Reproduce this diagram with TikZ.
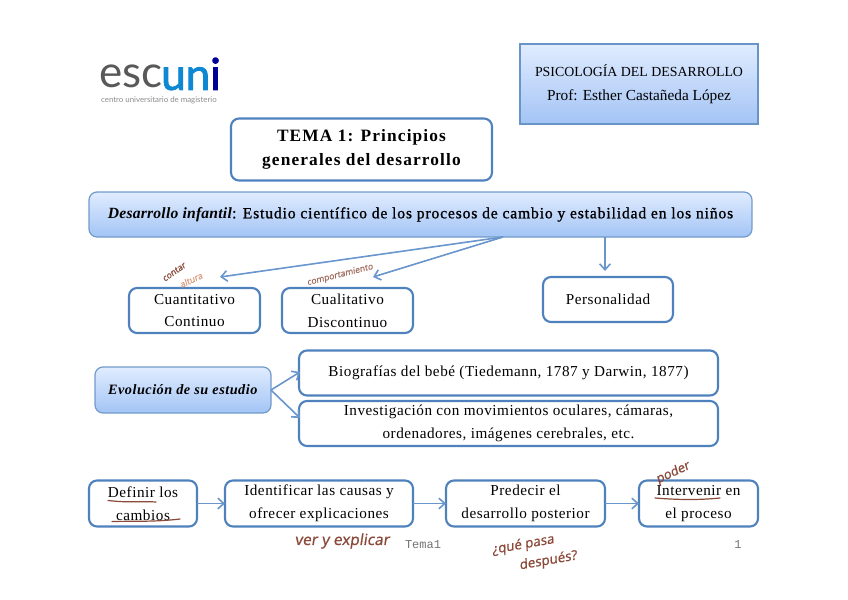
\documentclass[tikz,border=0pt]{standalone}
\usepackage{fontspec}
\setmainfont{Liberation Serif}[LetterSpace=3.5]
\newfontfamily\hdfont{Liberation Serif}
\newfontfamily\widefont{Liberation Serif}[LetterSpace=6.5]
\newfontfamily\medfont{Liberation Serif}[LetterSpace=5.5,FakeBold=1]
\newfontfamily\tightfont{Liberation Serif}[LetterSpace=1.5]
\newfontfamily\logofont{Lato}
\newfontfamily\logobold{Lato}[FakeBold=2]
\newfontfamily\footfont{Liberation Mono}
\newfontfamily\handfont{Noto Sans}[FakeSlant=0.15,FakeBold=0.4]
\definecolor{boxline}{HTML}{4F81BD}
\definecolor{arrowline}{HTML}{6A96CE}
\definecolor{gradtop}{HTML}{E0ECFF}
\definecolor{gradbot}{HTML}{A3C4F5}
\definecolor{hand}{HTML}{8B4A3A}
\definecolor{handlight}{HTML}{D99A7E}
\usetikzlibrary{arrows.meta}
\tikzset{
  px/.style={inner sep=0pt,outer sep=0pt,align=center,font=\fontsize{11.4}{17}\selectfont},
  plainbox/.style={px,draw=boxline,line width=1.6pt,rounded corners=6pt,fill=white},
  gradbox/.style={px,draw=boxline!80,line width=0.9pt,rounded corners=6pt,top color=gradtop,bottom color=gradbot},
  link/.style={draw=arrowline,line width=1.2pt,-{Straight Barb[length=4.5pt,width=8pt]}},
  handtext/.style={inner sep=0pt,text=hand,font=\handfont\fontsize{8}{9}\selectfont},
  underl/.style={draw=hand,line width=0.9pt,line cap=round},
}
\newcommand{\pxbox}[7][]{\node[#2,minimum width=#5*0.75pt,minimum height=#6*0.75pt,#1] (#3) at (#4) {#7};}
\begin{document}
\begin{tikzpicture}[x=0.75pt,y=-0.75pt]
\useasboundingbox (0,0) rectangle (848,599);
% logo
\node[inner sep=0pt,text=black!65,font=\logofont\fontsize{33}{33}\selectfont] (logoa) at (131,76) {esc};
\node[inner sep=0pt,text=cyan!70!blue,font=\logobold\fontsize{33}{33}\selectfont] (logob) at (191,74) {un\textcolor{blue!60!black}{i}};
\node[inner sep=0pt,text=black!45,font=\logofont\fontsize{5.9}{6}\selectfont] (logoc) at (159,100) {centro universitario de magisterio};
% header
\node[px,draw=boxline!85,line width=0.9pt,top color=gradtop,bottom color=gradbot,minimum width=238*0.75pt,minimum height=80*0.75pt,font=\hdfont\fontsize{11.5}{18}\selectfont] (hdr) at (639,84) {{\fontsize{10.4}{18}\selectfont PSICOLOGÍA DEL DESARROLLO}\\Prof: Esther Castañeda López};
\pxbox[font=\widefont\bfseries\fontsize{13}{18.5}\selectfont]{plainbox}{tema}{361.5,149.5}{261}{62}{TEMA 1: Principios\\generales del desarrollo}
\pxbox{gradbox}{des}{420.5,214.5}{663}{45}{\fontsize{11.7}{17}\selectfont\tightfont\textbf{\textit{Desarrollo infantil}}\medfont: Estudio científico de los procesos de cambio y estabilidad en los niños}
\pxbox{plainbox}{cuan}{194.5,310.5}{131}{45}{Cuantitativo\\Continuo}
\pxbox{plainbox}{cual}{347.5,310.5}{131}{45}{Cualitativo\\Discontinuo}
\pxbox{plainbox}{pers}{608,299.5}{130}{45}{Personalidad}
\pxbox{gradbox}{evol}{183,390}{176}{46}{\fontsize{10.7}{17}\selectfont\textbf{\textit{Evolución de su estudio}}}
\pxbox{plainbox}{biog}{508.5,373}{419}{45}{Biografías del bebé (Tiedemann, 1787 y Darwin, 1877)}
\pxbox{plainbox}{inv}{508.5,423.5}{419}{45}{Investigación con movimientos oculares, cámaras,\\ordenadores, imágenes cerebrales, etc.}
\pxbox{plainbox}{def}{143,503.5}{108}{46}{Definir los\\cambios}
\pxbox{plainbox}{ide}{319,503.5}{188}{46}{Identificar las causas y\\ofrecer explicaciones}
\pxbox{plainbox}{pre}{525.5,503.5}{159}{46}{Predecir el\\desarrollo posterior}
\pxbox{plainbox}{int}{698.5,503.5}{119}{46}{Intervenir en\\el proceso}
% connectors
\coordinate (fork) at (503,237);
\coordinate (tipa) at (220,277);
\coordinate (tipb) at (373,277);
\coordinate (forkc) at (605,237);
\coordinate (tipc) at (605,271);
\draw[link] (fork) -- (tipa);
\draw[link] (fork) -- (tipb);
\draw[link] (forkc) -- (tipc);
\coordinate (tipd) at (300,372);
\coordinate (tipe) at (300,418);
\draw[link] (evol.east) -- (tipd);
\draw[link] (evol.east) -- (tipe);
\draw[link] (def) -- (ide);
\draw[link] (ide) -- (pre);
\draw[link] (pre) -- (int);
% footer
\node[inner sep=0pt,text=black!55,font=\footfont\fontsize{9}{10}\selectfont] (ft) at (423,545) {Tema1};
\node[inner sep=0pt,text=black!55,font=\footfont\fontsize{9}{10}\selectfont] (pg) at (738,545) {1};
% handwriting
\node[handtext,rotate=35,font=\handfont\fontsize{6.5}{7}\selectfont] (h1) at (174,272) {contar};
\node[handtext,rotate=25,text=handlight,font=\handfont\fontsize{6.5}{7}\selectfont] (h2) at (191,280) {altura};
\node[handtext,rotate=14,font=\handfont\fontsize{6.4}{7}\selectfont,text=hand!80] (h3) at (340,275) {comportamiento};
\node[handtext,font=\handfont\fontsize{11.5}{12}\selectfont] (h4) at (342,541) {ver y explicar};
\node[handtext,rotate=10,font=\handfont\fontsize{10}{11}\selectfont] (h5) at (523,545) {¿qué pasa};
\node[handtext,rotate=10,font=\handfont\fontsize{10}{11}\selectfont] (h6) at (548,561) {después?};
\node[handtext,rotate=25,font=\handfont\fontsize{9.5}{9}\selectfont] (h7) at (673,473) {poder};
\draw[underl] (108,500.5) .. controls (130,503) and (140,501) .. (156,502);
\draw[underl] (112,521.5) .. controls (135,521) and (155,522) .. (180,519);
\draw[underl] (655,498) .. controls (680,500) and (700,500) .. (720,498);
\end{tikzpicture}
\end{document}
